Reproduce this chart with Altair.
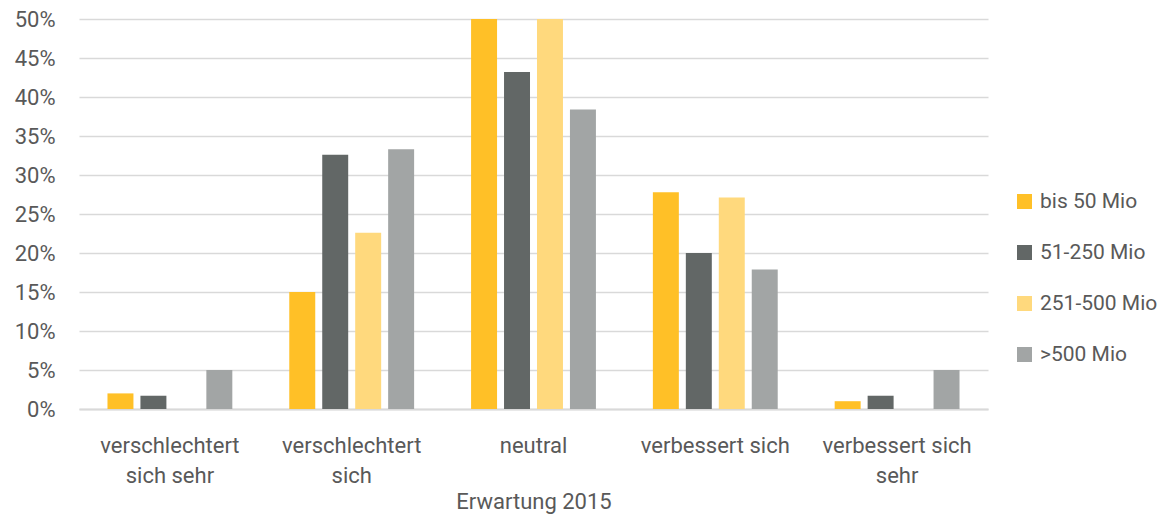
import altair as alt
import pandas as pd

categories = ["verschlechtert|sich sehr", "verschlechtert|sich", "neutral",
              "verbessert sich", "verbessert sich|sehr"]
series = ["bis 50 Mio", "51-250 Mio", "251-500 Mio", ">500 Mio"]
colors = ["#FFC027", "#626766", "#FFD97D", "#A2A5A5"]

bis50 = [2.0, 15.0, 50.0, 27.8, 1.0]
m51_250 = [1.7, 32.6, 43.2, 20.0, 1.7]
m251_500 = [0.0, 22.6, 50.0, 27.1, 0.0]
over500 = [5.0, 33.3, 38.4, 17.9, 5.0]
y_ticks = [0, 5, 10, 15, 20, 25, 30, 35, 40, 45, 50]

rows = []
for s, vals in zip(series, [bis50, m51_250, m251_500, over500]):
    for c, v in zip(categories, vals):
        rows.append({"cat": c, "series": s, "value": v})
df = pd.DataFrame(rows)

FONT = "Roboto"
TXT = "#595959"

chart = alt.Chart(df).mark_bar().encode(
    x=alt.X("cat:N", sort=categories,
            scale=alt.Scale(paddingInner=0, paddingOuter=0),
            axis=alt.Axis(title="Erwartung 2015", labelAngle=0,
                          labelExpr="split(datum.label, '|')",
                          labelLineHeight=30, labelPadding=26, ticks=False,
                          domainColor="#d9d9d9", domainWidth=2,
                          labelFontSize=22, labelColor=TXT, labelFont=FONT,
                          titleFontSize=22, titleColor=TXT, titleFont=FONT,
                          titleFontWeight="normal", titlePadding=5)),
    xOffset=alt.XOffset("series:N", sort=series,
                        scale=alt.Scale(paddingInner=0.212, paddingOuter=0.864)),
    y=alt.Y("value:Q", scale=alt.Scale(domain=[0, 50], nice=False),
            axis=alt.Axis(title=None, values=y_ticks, labelExpr="datum.value + '%'",
                          domain=False, ticks=False, labelPadding=24,
                          gridColor="#d9d9d9", gridWidth=1.5,
                          labelFontSize=22, labelColor=TXT, labelFont=FONT)),
    color=alt.Color("series:N", sort=series,
                    scale=alt.Scale(domain=series, range=colors),
                    legend=alt.Legend(title=None, orient="none", legendX=935, legendY=172,
                                      symbolType="square", symbolSize=225,
                                      symbolStrokeWidth=0, labelFontSize=21,
                                      labelColor=TXT, labelFont=FONT, labelOffset=5,
                                      rowPadding=29, padding=0)),
).properties(
    width=909, height=390,
    autosize=alt.AutoSizeParams(type="none"),
    padding={"left": 71, "top": 11, "right": 173, "bottom": 108},
).configure_view(stroke=None)

chart.save("out.html", embed_options={"renderer": "svg", "actions": False})
